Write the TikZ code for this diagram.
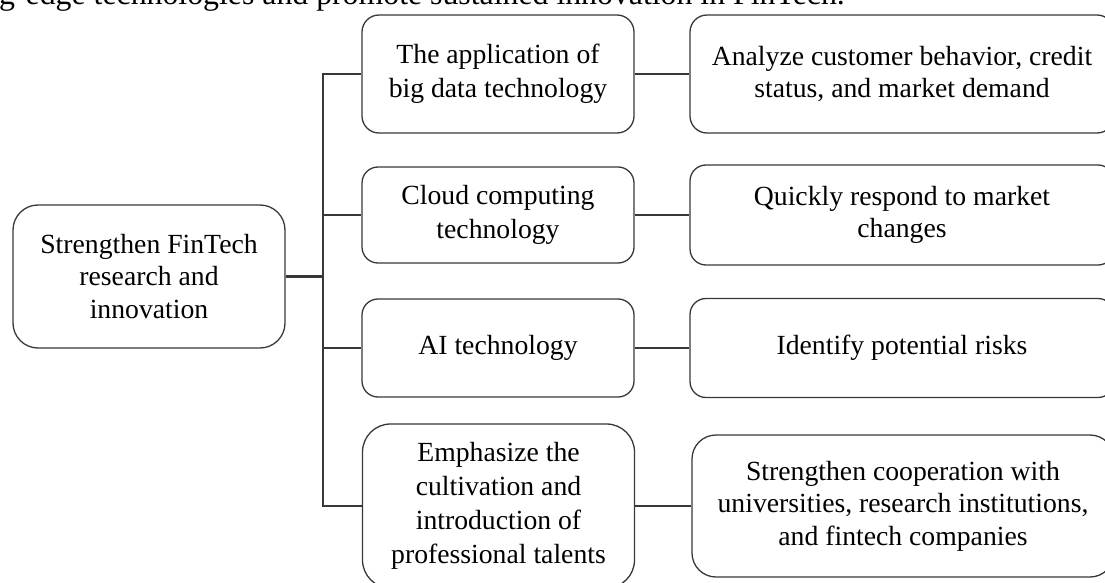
\documentclass[tikz,border=0pt]{standalone}
\usepackage{fontspec}
\setmainfont{Liberation Serif}
\begin{document}
\begin{tikzpicture}[x=1pt,y=-1pt,
  box/.style={draw=black!78, line width=1.3pt, align=center, inner sep=0pt,
    font=\fontsize{27.7}{32.5}\selectfont, text=black},
  conn/.style={draw=black!78, line width=1.3pt},
  midbox/.style={box, minimum width=272pt, font=\fontsize{27.7}{33.8}\selectfont},
  rightbox/.style={box, minimum width=424pt}]
\useasboundingbox (0,0) rectangle (1105,583);
\clip (0,0) rectangle (1105,583);
% cut-off text line at top
\node[anchor=base east, inner sep=0pt, font=\fontsize{31.8}{36}\selectfont] (top) at (845,5)
  {g-edge technologies and promote sustained innovation in FinTech.};
% root
\node[box, minimum width=272pt, minimum height=143pt, rounded corners=25pt] (root) at (149,276.5)
  {Strengthen FinTech\\research and\\innovation};
% middle column
\node[midbox, minimum height=118pt, rounded corners=17pt] (m1) at (498,74)
  {The application of\\big data technology};
\node[midbox, minimum height=96pt, rounded corners=16pt] (m2) at (498,215)
  {Cloud computing\\technology};
\node[midbox, minimum height=98pt, rounded corners=16pt] (m3) at (498,348)
  {AI technology};
\node[midbox, minimum height=164pt, rounded corners=28pt] (m4) at (498.5,506)
  {Emphasize the\\cultivation and\\introduction of\\professional talents};
% right column
\node[rightbox, minimum height=118pt, rounded corners=17pt] (r1) at (902,74)
  {Analyze customer behavior, credit\\status, and market demand};
\node[rightbox, minimum height=100pt, rounded corners=16pt] (r2) at (902,215)
  {Quickly respond to market\\changes};
\node[rightbox, minimum height=99pt, rounded corners=16pt] (r3) at (902,348)
  {Identify potential risks};
\node[rightbox, minimum width=422pt, minimum height=142pt, rounded corners=24pt] (r4) at (903,506)
  {Strengthen cooperation with\\universities, research institutions,\\and fintech companies};
% trunk
\coordinate (tr) at (323,276.5);
\draw[conn] (root.east) -- (tr) |- (m1.west);
\draw[conn] (root.east) -- (tr) |- (m2.west);
\draw[conn] (root.east) -- (tr) |- (m3.west);
\draw[conn] (root.east) -- (tr) |- (m4.west);
\draw[conn, line width=2.2pt] (root.east) -- (tr) -- (tr |- m2.west);
% right connectors
\draw[conn] (m1.east) -- (r1.west);
\draw[conn] (m2.east) -- (r2.west);
\draw[conn] (m3.east) -- (r3.west);
\draw[conn] (m4.east) -- (r4.west);
\end{tikzpicture}
\end{document}
